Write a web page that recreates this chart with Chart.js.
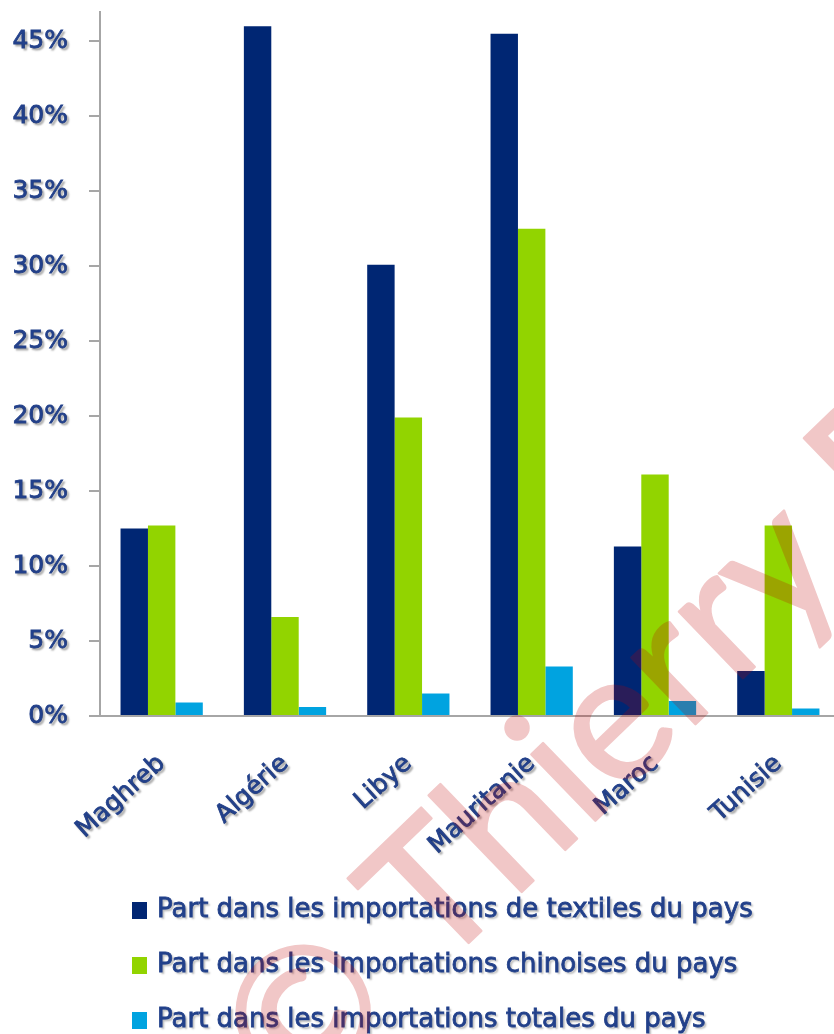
<!DOCTYPE html>
<html><head><meta charset="utf-8">
<script src="https://cdn.jsdelivr.net/npm/chart.js@4.4.1/dist/chart.umd.min.js"></script>
<style>
html,body{margin:0;padding:0;background:#fff;overflow:hidden;}
#wrap{width:840px;height:1034px;position:relative;}
</style></head><body>
<div id="wrap"><canvas id="c" width="840" height="1034"></canvas></div>
<script>
const categories = ['Maghreb', 'Algérie', 'Libye', 'Mauritanie', 'Maroc', 'Tunisie'];
const seriesNames = [
  'Part dans les importations de textiles du pays',
  'Part dans les importations chinoises du pays',
  'Part dans les importations totales du pays'
];
const textiles  = [12.5, 46.0, 30.1, 45.5, 11.3, 3.0];
const chinoises = [12.7, 6.6, 19.9, 32.5, 16.1, 12.7];
const totales   = [0.9, 0.6, 1.5, 3.3, 1.0, 0.5];
const yTicks = [0, 5, 10, 15, 20, 25, 30, 35, 40, 45];
const yMax = 46.95;
const watermark = '© Thierry P';

const colors = ['#002673', '#92d400', '#00a3e0'];
const textColor = '#22408a';
const axisColor = '#a6a6a6';
const labelFont = {family: '"DejaVu Sans"', size: 25};

function shadowOn(ctx) {
  ctx.shadowColor = 'rgba(0,0,0,0.28)';
  ctx.shadowOffsetX = 2;
  ctx.shadowOffsetY = 2;
  ctx.shadowBlur = 2;
}

function drawWatermark(ctx) {
  const off = document.createElement('canvas');
  off.width = 840; off.height = 1034;
  const o = off.getContext('2d');
  o.font = '182px Lato';
  const lead = o.measureText('© ').width + o.measureText('T').width / 2;
  const ang = 44 * Math.PI / 180;
  const bx = 475 - lead * Math.cos(ang);
  const by = 937 + lead * Math.sin(ang);
  o.translate(bx, by);
  o.rotate(-ang);
  o.fillStyle = '#be0000';
  o.strokeStyle = '#be0000';
  o.lineWidth = 2.5;
  o.lineJoin = 'round';
  o.textBaseline = 'alphabetic';
  o.fillText(watermark, 0, 0);
  o.strokeText(watermark, 0, 0);
  ctx.save();
  ctx.globalAlpha = 0.22;
  ctx.drawImage(off, 0, 0);
  ctx.restore();
}

const decor = {
  id: 'decor',
  afterDatasetsDraw(chart) { chart.ctx.save(); shadowOn(chart.ctx); },
  afterDraw(chart) {
    const ctx = chart.ctx;
    ctx.restore();
    const base = chart.chartArea.bottom;
    chart.data.datasets.forEach((d, i) => {
      const cy = base + 194 + i * 55;
      ctx.save();
      ctx.fillStyle = d.backgroundColor;
      ctx.fillRect(132, cy - 8, 15, 17);
      ctx.font = '26px "DejaVu Sans"';
      ctx.fillStyle = textColor;
      ctx.strokeStyle = textColor;
      ctx.lineWidth = 0.8;
      ctx.textBaseline = 'middle';
      ctx.textAlign = 'left';
      shadowOn(ctx);
      ctx.fillText(d.label, 157, cy);
      ctx.shadowColor = 'rgba(0,0,0,0)';
      ctx.strokeText(d.label, 157, cy);
      ctx.restore();
    });
    drawWatermark(ctx);
  }
};

new Chart(document.getElementById('c'), {
  type: 'bar',
  data: {
    labels: categories,
    datasets: [textiles, chinoises, totales].map((vals, i) => ({
      label: seriesNames[i],
      data: vals,
      backgroundColor: colors[i],
      borderWidth: 0,
      categoryPercentage: 0.667,
      barPercentage: 1.0
    }))
  },
  options: {
    responsive: false,
    devicePixelRatio: 1,
    animation: false,
    layout: {padding: {top: 12, left: 0, right: 0, bottom: 168}},
    plugins: {legend: {display: false}, tooltip: {enabled: false}},
    scales: {
      x: {
        grid: {drawOnChartArea: false, drawTicks: false},
        border: {display: true, color: axisColor, width: 2},
        ticks: {minRotation: 42, maxRotation: 42, autoSkip: false, padding: 33, font: labelFont, color: textColor,
                textStrokeColor: textColor, textStrokeWidth: 0.8, z: 1},
        afterFit(s) { s.height = 150; s.paddingLeft = 0; s.paddingRight = 0; }
      },
      y: {
        min: 0,
        max: yMax,
        grid: {drawOnChartArea: false, drawTicks: true, tickLength: 11, color: axisColor, tickColor: axisColor, lineWidth: 2, tickWidth: 2},
        border: {display: true, color: axisColor, width: 2},
        ticks: {padding: 21, font: labelFont, color: textColor, textStrokeColor: textColor, textStrokeWidth: 0.8, z: 1,
                callback: v => v + '%'},
        afterBuildTicks(s) { s.ticks = yTicks.map(v => ({value: v})); },
        afterFit(s) { s.width = 100; s.paddingTop = 0; s.paddingBottom = 0; }
      }
    }
  },
  plugins: [decor]
});
</script>
</body></html>
